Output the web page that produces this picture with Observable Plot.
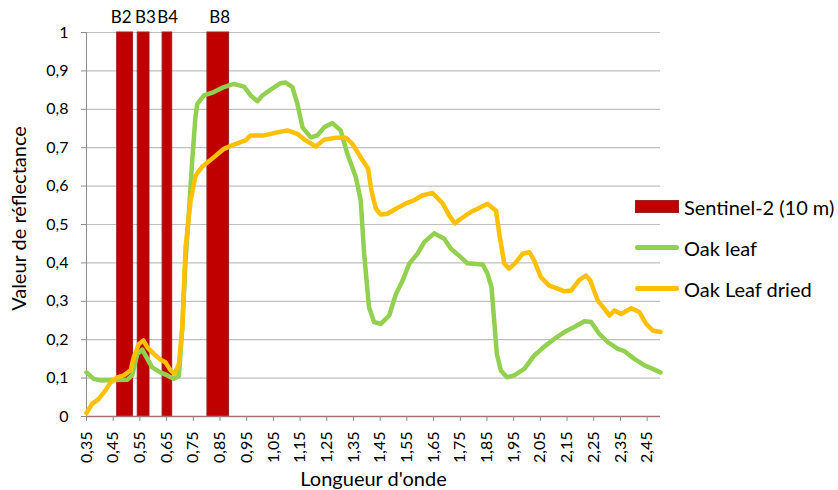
<!DOCTYPE html>
<html>
<head>
<meta charset="utf-8">
<script src="https://cdn.jsdelivr.net/npm/d3@7"></script>
<script src="https://cdn.jsdelivr.net/npm/@observablehq/plot@0.6"></script>
<style>
  html, body { margin: 0; padding: 0; background: white; }
  #wrap { position: relative; width: 838px; height: 490px; font-family: Lato, "Open Sans", sans-serif; }
  #legend { position: absolute; left: 635px; top: 186px; font-size: 20px; color: #000; }
  .row { height: 41px; display: flex; align-items: center; white-space: nowrap; }
  .sw { width: 44px; margin-right: 5px; box-sizing: border-box; flex: none; }
</style>
</head>
<body>
<div id="wrap"><div id="legend"></div></div>
<script>
// Sentinel-2 10 m bands (start / end wavelength, µm) and label positions
const bandNames = ["B2", "B3", "B4", "B8"];
const bandStart = [0.465, 0.542, 0.635, 0.803];
const bandEnd   = [0.524, 0.586, 0.671, 0.884];
const bandLabelX = [0.480, 0.571, 0.654, 0.849];

// Oak leaf reflectance
const oakX = [0.35,0.377,0.402,0.45,0.503,0.521,0.540,0.559,0.578,0.596,0.627,0.653,0.677,0.696,0.709,0.721,0.734,0.746,0.758,0.765,0.790,0.827,0.865,0.902,0.940,0.965,0.990,1.009,1.040,1.077,1.095,1.121,1.140,1.159,1.190,1.215,1.240,1.271,1.302,1.327,1.359,1.377,1.390,1.408,1.427,1.452,1.484,1.509,1.534,1.559,1.590,1.615,1.652,1.690,1.715,1.752,1.777,1.834,1.852,1.867,1.877,1.887,1.902,1.925,1.952,1.990,2.027,2.065,2.102,2.140,2.177,2.215,2.240,2.271,2.302,2.340,2.365,2.402,2.440,2.471,2.5];
const oakY = [0.115,0.098,0.094,0.095,0.096,0.107,0.163,0.174,0.150,0.128,0.115,0.107,0.098,0.105,0.233,0.406,0.536,0.667,0.780,0.814,0.836,0.845,0.858,0.866,0.859,0.836,0.821,0.836,0.851,0.868,0.870,0.858,0.814,0.753,0.727,0.732,0.753,0.764,0.745,0.684,0.623,0.563,0.424,0.285,0.246,0.241,0.263,0.319,0.354,0.398,0.424,0.454,0.477,0.463,0.437,0.415,0.399,0.396,0.372,0.337,0.250,0.163,0.120,0.102,0.107,0.124,0.159,0.182,0.202,0.220,0.233,0.248,0.246,0.215,0.194,0.176,0.170,0.150,0.133,0.124,0.115];

// Oak leaf dried reflectance
const driedX = [0.35,0.371,0.396,0.421,0.44,0.465,0.49,0.515,0.527,0.546,0.563,0.578,0.602,0.627,0.646,0.665,0.680,0.696,0.709,0.721,0.740,0.759,0.784,0.827,0.865,0.902,0.946,0.965,1.015,1.065,1.102,1.140,1.171,1.209,1.240,1.284,1.321,1.346,1.377,1.405,1.417,1.434,1.452,1.477,1.509,1.546,1.577,1.609,1.646,1.684,1.709,1.730,1.752,1.790,1.815,1.852,1.884,1.896,1.915,1.933,1.959,1.984,2.009,2.027,2.052,2.083,2.115,2.140,2.165,2.196,2.221,2.237,2.265,2.290,2.309,2.327,2.352,2.390,2.421,2.446,2.471,2.5];
const driedY = [0.009,0.033,0.046,0.068,0.089,0.102,0.107,0.120,0.154,0.189,0.198,0.180,0.163,0.148,0.141,0.120,0.111,0.137,0.233,0.441,0.563,0.628,0.651,0.675,0.697,0.708,0.719,0.732,0.732,0.740,0.745,0.736,0.719,0.703,0.721,0.726,0.726,0.710,0.675,0.645,0.589,0.541,0.526,0.528,0.541,0.555,0.563,0.576,0.582,0.555,0.523,0.503,0.515,0.533,0.541,0.554,0.536,0.476,0.398,0.385,0.402,0.424,0.428,0.406,0.363,0.341,0.333,0.326,0.328,0.356,0.367,0.354,0.302,0.280,0.263,0.276,0.267,0.282,0.272,0.241,0.224,0.220];

const xTicks = [0.35,0.45,0.55,0.65,0.75,0.85,0.95,1.05,1.15,1.25,1.35,1.45,1.55,1.65,1.75,1.85,1.95,2.05,2.15,2.25,2.35,2.45];
const yTicks = [0,0.1,0.2,0.3,0.4,0.5,0.6,0.7,0.8,0.9,1];

const seriesNames = ["Sentinel-2 (10\u202Fm)", "Oak leaf", "Oak Leaf dried"];
const seriesColors = ["#c00000", "#92d050", "#ffc000"];

const bands = bandNames.map((n, i) => ({name: n, start: bandStart[i], end: bandEnd[i], lx: bandLabelX[i]}));
const oak = oakX.map((x, i) => ({x, y: oakY[i]}));
const dried = driedX.map((x, i) => ({x, y: driedY[i]}));

const fmtX = v => v.toFixed(2).replace(".", ",");
const fmtY = v => (v === 0 || v === 1) ? String(v) : v.toFixed(1).replace(".", ",");

const chart = Plot.plot({
  width: 838, height: 490,
  marginLeft: 86, marginRight: 178, marginTop: 32, marginBottom: 74,
  style: {fontFamily: "Lato, 'Open Sans', sans-serif", fontSize: "16px", color: "#000", background: "transparent", overflow: "visible"},
  x: {domain: [0.35, 2.5], axis: null},
  y: {domain: [0, 1], axis: null},
  marks: [
    Plot.gridY(yTicks, {stroke: "#c0c0c0", strokeOpacity: 1, strokeWidth: 1.2}),
    Plot.rect(bands, {x1: "start", x2: "end", y1: 0, y2: 1, fill: seriesColors[0], stroke: "#9a2020", strokeWidth: 1}),
    Plot.ruleX([0.35], {stroke: "#8c8c8c"}),
    Plot.ruleY([0], {stroke: "#a67373", strokeWidth: 1.5}),
    Plot.axisY(yTicks, {tickFormat: fmtY, tickSize: 5, tickPadding: 13, stroke: "#8c8c8c", fill: "#000", fontSize: 16, label: null}),
    Plot.axisX(xTicks, {tickFormat: fmtX, tickRotate: -90, tickSize: 5, tickPadding: 10, stroke: "#8c8c8c", fill: "#000", fontSize: 16, label: null}),
    Plot.line(oak, {x: "x", y: "y", stroke: seriesColors[1], strokeWidth: 4.5, strokeLinejoin: "round", strokeLinecap: "round"}),
    Plot.line(dried, {x: "x", y: "y", stroke: seriesColors[2], strokeWidth: 4.5, strokeLinejoin: "round", strokeLinecap: "round"}),
    Plot.text(bands, {x: "lx", y: 1, dy: -15, text: "name", fontSize: 17, fill: "#000"}),
    Plot.text(["Valeur de réflectance"], {frameAnchor: "left", textAnchor: "middle", rotate: -90, dx: -67, dy: -6, fontSize: 20, fill: "#000"}),
    Plot.text(["Longueur d'onde"], {frameAnchor: "bottom", textAnchor: "middle", dy: 69, fontSize: 20, fill: "#000"})
  ]
});
const wrap = document.getElementById("wrap");
wrap.insertBefore(chart, wrap.firstChild);
chart.style.position = "absolute";
chart.style.left = "0";
chart.style.top = "0";

const legend = document.getElementById("legend");
seriesNames.forEach((name, i) => {
  const row = document.createElement("div");
  row.className = "row";
  const sw = document.createElement("div");
  sw.className = "sw";
  if (i === 0) {
    sw.style.height = "13px";
    sw.style.background = seriesColors[0];
    sw.style.border = "1px solid #9a2020";
  } else {
    sw.style.height = "5px";
    sw.style.borderRadius = "2.5px";
    sw.style.background = seriesColors[i];
  }
  const t = document.createElement("span");
  t.textContent = name;
  row.appendChild(sw);
  row.appendChild(t);
  legend.appendChild(row);
});
</script>
</body>
</html>
